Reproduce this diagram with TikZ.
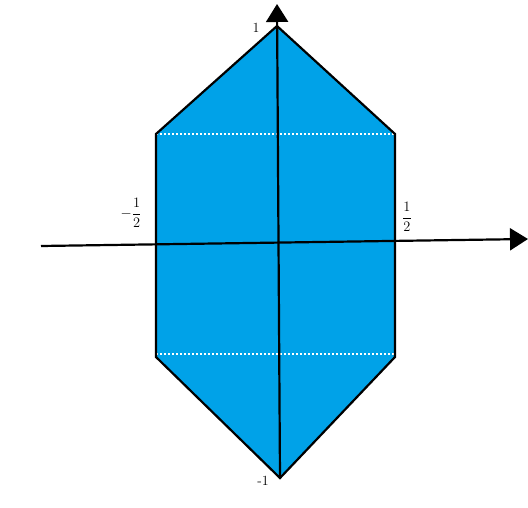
\documentclass[tikz,border=0pt]{standalone}
\usetikzlibrary{arrows.meta}
\definecolor{paintblue}{RGB}{0,162,232}
\begin{document}
\begin{tikzpicture}[x=1pt,y=-1pt,
  edge/.style={draw=black,line width=2.2pt,line join=miter},
  axis/.style={draw=black,line width=2.2pt,-{Triangle[length=18pt,width=22pt]}},
  guide/.style={draw=white,line width=1.2pt,dash pattern=on 2pt off 2pt},
  lbl/.style={inner sep=0pt,font=\fontsize{14}{16}\selectfont}]
\useasboundingbox (0,0) rectangle (528,508);
\coordinate (T) at (277,26);
\coordinate (UL) at (156,134);
\coordinate (UR) at (395,134);
\coordinate (LR) at (395,357);
\coordinate (B) at (280,478);
\coordinate (LL) at (156,357);
\coordinate (XL) at (41,246);
\coordinate (XR) at (528,239);
\coordinate (YT) at (277,4);
\fill[paintblue] (T) -- (UR) -- (LR) -- (B) -- (LL) -- (UL) -- cycle;
\draw[guide] (UL) -- (UR);
\draw[guide] ([yshift=3pt]LL) -- ([yshift=3pt]LR);
\draw[edge] (UL) -- (T) -- (UR) -- (LR) -- (B) -- (LL) -- cycle;
\draw[axis] (XL) -- (XR);
\draw[axis] (B) -- (YT);
\node[lbl] (one) at (256,28) {1};
\node[lbl] (mone) at (263,481) {-1};
\node[lbl] (mhalf) at (131,213) {$-\displaystyle\frac{1}{2}$};
\node[lbl] (half) at (407,217) {$\displaystyle\frac{1}{2}$};
\end{tikzpicture}
\end{document}
